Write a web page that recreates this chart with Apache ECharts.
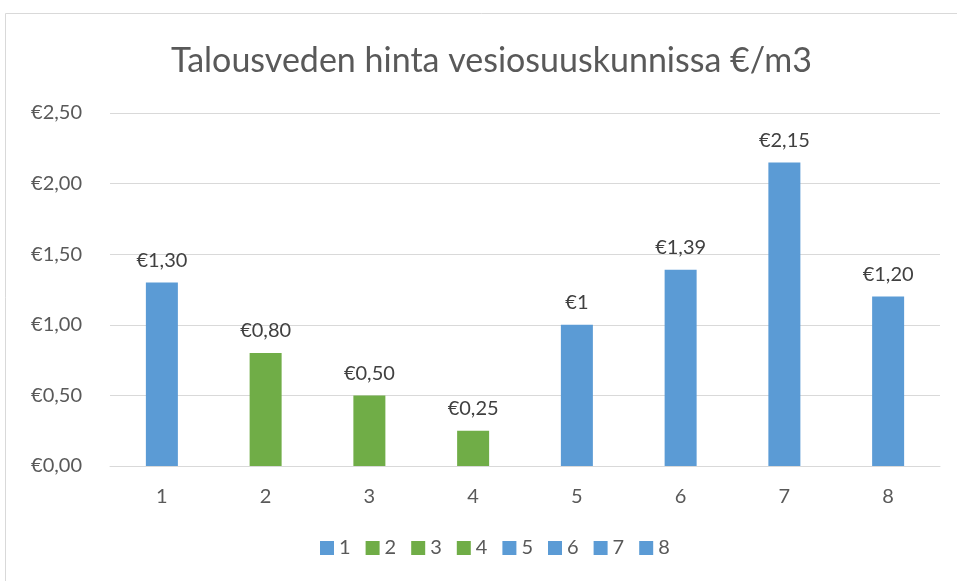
<!DOCTYPE html>
<html>
<head>
<meta charset="utf-8">
<script src="https://cdn.jsdelivr.net/npm/echarts@6/dist/echarts.min.js"></script>
<style>
  html, body { margin: 0; padding: 0; background: #fff; }
  #chart { width: 957px; height: 581px; }
</style>
</head>
<body>
<div id="chart"></div>
<script>
var categories = ['1', '2', '3', '4', '5', '6', '7', '8'];
var prices = [1.30, 0.80, 0.50, 0.25, 1.00, 1.39, 2.15, 1.20];
var priceLabels = ['€1,30', '€0,80', '€0,50', '€0,25', '€1', '€1,39', '€2,15', '€1,20'];
var barColors = ['#5b9bd5', '#70ad47', '#70ad47', '#70ad47', '#5b9bd5', '#5b9bd5', '#5b9bd5', '#5b9bd5'];
var yTicks = ['€0,00', '€0,50', '€1,00', '€1,50', '€2,00', '€2,50'];

var font = 'Lato, "Open Sans", sans-serif';
var textColor = '#595959';

// one series per category so the legend gets 8 entries
var series = categories.map(function (name, i) {
    var data = categories.map(function (c, j) { return j === i ? prices[i] : '-'; });
    return {
        name: name,
        type: 'bar',
        data: data,
        barWidth: 32,
        barGap: '-100%',
        itemStyle: { color: barColors[i] },
        label: {
            show: true,
            position: 'top',
            distance: 12,
            color: '#404040',
            fontFamily: font,
            fontSize: 20,
            formatter: function () { return priceLabels[i]; }
        }
    };
});

var chart = echarts.init(document.getElementById('chart'));
chart.setOption({
    animation: false,
    graphic: [{
        type: 'rect',
        shape: { x: 5.5, y: 13.5, width: 1000, height: 700 },
        style: { fill: 'none', stroke: '#d9d9d9', lineWidth: 1 },
        z: -1
    }],
    title: {
        text: 'Talousveden hinta vesiosuuskunnissa €/m3',
        left: 166,
        top: 39,
        textStyle: { color: textColor, fontFamily: font, fontSize: 34, fontWeight: 'normal' }
    },
    legend: {
        bottom: 18,
        left: 315,
        icon: 'rect',
        itemWidth: 14,
        itemHeight: 14,
        itemGap: 15,
        data: categories,
        textStyle: { color: textColor, fontFamily: font, fontSize: 20 }
    },
    grid: { left: 110, right: 17, top: 113, bottom: 115 },
    xAxis: {
        type: 'category',
        data: categories,
        axisTick: { show: false },
        axisLine: { lineStyle: { color: '#d9d9d9' } },
        axisLabel: { color: textColor, fontFamily: font, fontSize: 20, margin: 21 }
    },
    yAxis: {
        type: 'value',
        min: 0,
        max: 2.5,
        interval: 0.5,
        axisLabel: {
            color: textColor, fontFamily: font, fontSize: 20, margin: 28,
            formatter: function (v) { return yTicks[Math.round(v / 0.5)]; }
        },
        splitLine: { lineStyle: { color: '#d9d9d9' } }
    },
    series: series
});
</script>
</body>
</html>
